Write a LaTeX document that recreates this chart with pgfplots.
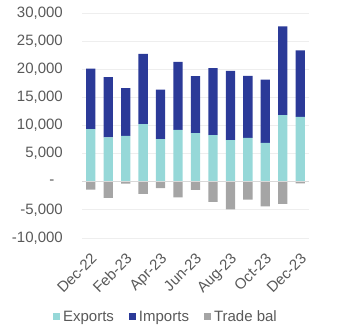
\documentclass[border=0pt]{standalone}
\usepackage{fontspec}
\setmainfont{Liberation Sans}
\usepackage{pgfplots}
\pgfplotsset{compat=1.18}
\usepackage{pgfplotstable}
\definecolor{expc}{HTML}{96D8D8}
\definecolor{impc}{HTML}{2B3A98}
\definecolor{balc}{HTML}{A5A5A5}
\definecolor{txtc}{HTML}{595959}
\definecolor{gridc}{HTML}{EEEEEE}
\definecolor{zeroc}{HTML}{D9D9D9}
\pgfplotstableread{
idx exp imp bal
0 9350 10770 -1400
1 7870 10710 -2880
2 8170 8460 -330
3 10240 12480 -2170
4 7570 8820 -1150
5 9230 12070 -2760
6 8640 10120 -1450
7 8280 11900 -3590
8 7400 12300 -4900
9 7810 11010 -3200
10 6920 11250 -4360
11 11830 15800 -3950
12 11540 11830 -270
}\trade
\pgfplotsset{
  sqleg/.style={legend image code/.code={\fill[##1] (0pt,-3.5pt) rectangle (7pt,3.5pt);}},
  common/.style={
    scale only axis, width=227pt, height=225pt,
    xmin=-0.5, xmax=12.5, ymin=-10000, ymax=30000,
    bar width=9.3pt, scaled y ticks=false,
  }
}
\begin{document}
\begin{tikzpicture}
\begin{axis}[common,
  ybar stacked,
  axis line style={draw=none},
  tick style={draw=none},
  ytick={-10000,-5000,0,5000,10000,15000,20000,25000,30000},
  yticklabels={{-10,000},{-5,000},{-\hspace*{8.5pt}},{5,000},{10,000},{15,000},{20,000},{25,000},{30,000}},
  xtick={0,2,4,6,8,10,12},
  xticklabels={Dec-22,Feb-23,Apr-23,Jun-23,Aug-23,Oct-23,Dec-23},
  ymajorgrids, grid style={draw=gridc, line width=0.8pt},
  yticklabel style={anchor=east, inner sep=0pt, xshift=-19pt, font=\fontsize{15}{17}\selectfont, text=txtc},
  xticklabel style={xshift=-0.5pt, yshift=-14pt, rotate=45, anchor=north east, inner sep=0pt, font=\fontsize{15}{17}\selectfont, text=txtc},
  legend style={at={(-0.128,-0.351)}, anchor=west, draw=none, fill=none, inner sep=0pt,
    font=\fontsize{15}{17}\selectfont, text=txtc,
    nodes={inner sep=3pt},
    /tikz/every even column/.append style={column sep=12pt}},
  legend columns=3,
]
\addplot[fill=expc, draw=none, sqleg] table[x=idx, y=exp] {\trade};
\addlegendentry{Exports}
\addplot[fill=impc, draw=none, sqleg] table[x=idx, y=imp] {\trade};
\addlegendentry{Imports}
\addlegendimage{fill=balc, draw=none, sqleg}
\addlegendentry{Trade bal}
\end{axis}
\begin{axis}[common,
  ybar, bar shift=0pt,
  axis lines=none, xtick=\empty, ytick=\empty,
]
\addplot[fill=balc, draw=none] table[x=idx, y=bal] {\trade};
\draw[zeroc, line width=1.2pt] (axis cs:-0.5,0) -- (axis cs:12.5,0);
\end{axis}
\pgfresetboundingbox
\path[use as bounding box] (-82pt,-95pt) rectangle (278pt,238pt);
\end{tikzpicture}
\end{document}
